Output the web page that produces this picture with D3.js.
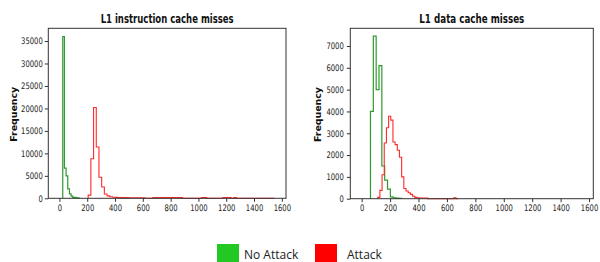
<!DOCTYPE html>
<html>
<head>
<meta charset="utf-8">
<script src="https://cdn.jsdelivr.net/npm/d3@7"></script>
<style>
  body { margin: 0; background: #fff; }
  svg { display: block; }
  .tick text { font-family: "DejaVu Sans", sans-serif; font-size: 9px; fill: #222; }
  .ttl { font-family: "DejaVu Sans", sans-serif; font-weight: bold; font-size: 12.5px; fill: #111; }
  .ylab { font-family: "DejaVu Sans", sans-serif; font-weight: bold; font-size: 9.5px; fill: #111; }
  .leg { font-family: "Open Sans", sans-serif; font-size: 12px; fill: #222; }
</style>
</head>
<body>
<script>
// x ticks shared by both panels
var xTicks = [0, 200, 400, 600, 800, 1000, 1200, 1400, 1600];

// L1 instruction cache misses: bin start, bin width, counts
var instNoStart = 24, instNoWidth = 12;
var instNoCounts = [36000, 6700, 5000, 2100, 1000, 500, 220, 200, 120, 50];
var instAtStart = 206.9, instAtWidth = 19.4;
var instAtCounts = [700, 8800, 20200, 11400, 4700, 2500, 950, 550, 350, 250,
    200, 150, 150, 140, 140, 130, 130, 130, 130, 130,
    130, 0, 0, 0, 140, 140, 140, 140, 140, 140,
    140, 140, 140, 140, 140, 0, 0, 0, 0, 0,
    0, 0, 150, 150, 0, 0, 0, 0, 0, 0,
    150, 150, 150, 0, 150, 0, 0, 0, 0, 0,
    0, 0, 0, 0, 0, 0, 0, 0, 0];
var instYTicks = [0, 5000, 10000, 15000, 20000, 25000, 30000, 35000];

// L1 data cache misses
var dataNoStart = 62, dataNoWidth = 20;
var dataNoCounts = [4000, 7450, 5000, 6100, 1500, 850, 440, 80, 40, 30, 20];
var dataAtStart = 113, dataAtWidth = 15.3;
var dataAtCounts = [60, 380, 1100, 2550, 3250, 3780, 3600, 2600, 2480, 2220,
    1900, 1000, 470, 350, 270, 200, 110, 60, 45, 35,
    30, 30, 30, 0, 0, 0, 0, 0, 0, 0,
    0, 0, 0, 0, 0, 40, 0];
var dataYTicks = [0, 1000, 2000, 3000, 4000, 5000, 6000, 7000];

var legendLabels = ["No Attack", "Attack"];
var legendColors = ["#23c923", "#ff0000"];

var noColor = "#2e9a2e", atColor = "#ff2a2a";
var sx = 0.76; // horizontal squash of the source image

var svg = d3.select("body").append("svg")
    .attr("width", 600)
    .attr("height", 262);

function binPoints(start, width, counts) {
    var pts = [[start, 0]];
    counts.forEach(function(c, i) { pts.push([start + i * width, c]); });
    pts.push([start + counts.length * width, 0]);
    return pts;
}

function panel(opt) {
    var x = d3.scaleLinear().domain([-80, 1630]).range([opt.left, opt.right]);
    var y = d3.scaleLinear().domain([0, opt.ymax]).range([opt.bottom, opt.top]);

    var line = d3.line()
        .x(function(d) { return x(d[0]); })
        .y(function(d) { return y(d[1]); })
        .curve(d3.curveStepAfter);

    var g = svg.append("g");

    g.append("path")
        .attr("d", line(binPoints(opt.noStart, opt.noWidth, opt.noCounts)))
        .attr("fill", "none")
        .attr("stroke", noColor)
        .attr("stroke-width", 1.2);

    g.append("path")
        .attr("d", line(binPoints(opt.atStart, opt.atWidth, opt.atCounts)))
        .attr("fill", "none")
        .attr("stroke", atColor)
        .attr("stroke-width", 1.1);

    var xAxis = d3.axisBottom(x).tickValues(xTicks).tickFormat(d3.format("d"))
        .tickSize(3.5).tickPadding(2.5).tickSizeOuter(0);
    var yAxis = d3.axisLeft(y).tickValues(opt.yTicks).tickFormat(d3.format("d"))
        .tickSize(3.5).tickSizeOuter(0);

    var gx = g.append("g")
        .attr("transform", "translate(0," + opt.bottom + ")")
        .call(xAxis);
    gx.selectAll(".tick text").attr("transform", "scale(" + sx + ",1)");

    var gy = g.append("g")
        .attr("transform", "translate(" + opt.left + ",0)")
        .call(yAxis);
    gy.selectAll(".tick text")
        .attr("x", 0)
        .attr("transform", "translate(" + opt.labGap + ",0) scale(" + sx + ",1)");

    [gx, gy].forEach(function(a) {
        a.select(".domain").remove();
        a.selectAll(".tick line").attr("stroke", "#333");
    });

    g.append("rect")
        .attr("x", opt.left)
        .attr("y", opt.top)
        .attr("width", opt.right - opt.left)
        .attr("height", opt.bottom - opt.top)
        .attr("fill", "none")
        .attr("stroke", "#333")
        .attr("stroke-width", 1);

    g.append("text")
        .attr("class", "ttl")
        .attr("x", (opt.left + opt.right) / 2)
        .attr("y", 22.5)
        .attr("text-anchor", "middle")
        .attr("textLength", opt.titleLen)
        .attr("lengthAdjust", "spacingAndGlyphs")
        .text(opt.title);

    g.append("text")
        .attr("class", "ylab")
        .attr("transform", "translate(" + opt.ylabX + "," + ((opt.top + opt.bottom) / 2 + 1) + ") rotate(-90)")
        .attr("text-anchor", "middle")
        .attr("textLength", 55)
        .attr("lengthAdjust", "spacingAndGlyphs")
        .text("Frequency");
}

panel({
    left: 48.3, right: 286, top: 28.3, bottom: 198.3, ymax: 37830,
    noStart: instNoStart, noWidth: instNoWidth, noCounts: instNoCounts,
    atStart: instAtStart, atWidth: instAtWidth, atCounts: instAtCounts,
    yTicks: instYTicks, labGap: -5.5, title: "L1 instruction cache misses",
    titleLen: 133, ylabX: 16.5
});

panel({
    left: 350.3, right: 593.3, top: 28.3, bottom: 198.7, ymax: 7811,
    noStart: dataNoStart, noWidth: dataNoWidth, noCounts: dataNoCounts,
    atStart: dataAtStart, atWidth: dataAtWidth, atCounts: dataAtCounts,
    yTicks: dataYTicks, labGap: -6.5, title: "L1 data cache misses",
    titleLen: 105, ylabX: 321
});

// legend
var legX = [217, 315], txtX = [244, 347];
legendLabels.forEach(function(lab, i) {
    svg.append("rect")
        .attr("x", legX[i])
        .attr("y", 244)
        .attr("width", 22)
        .attr("height", 20)
        .attr("fill", legendColors[i]);
    svg.append("text")
        .attr("class", "leg")
        .attr("x", txtX[i])
        .attr("y", 259)
        .text(lab);
});
</script>
</body>
</html>
